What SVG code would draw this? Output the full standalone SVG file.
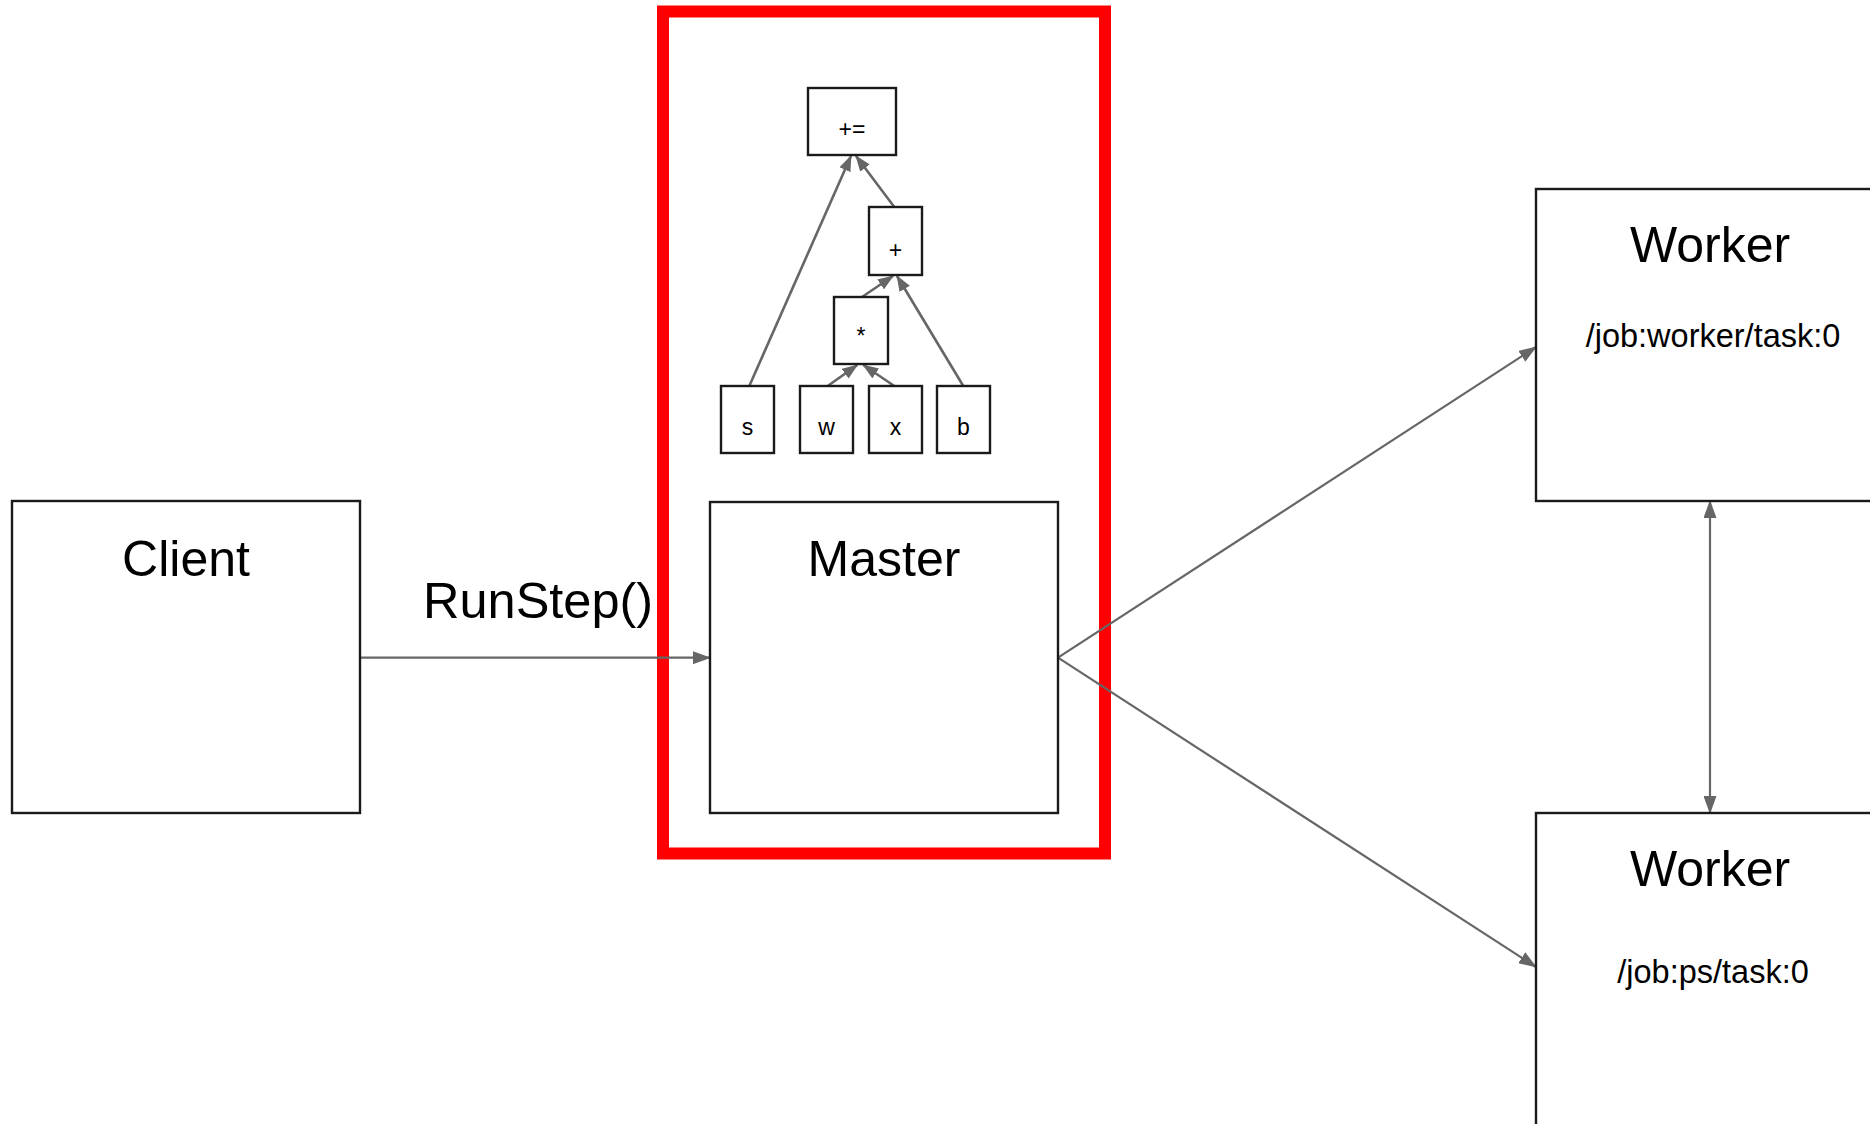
<svg xmlns="http://www.w3.org/2000/svg" width="1870" height="1124" viewBox="0 0 1870 1124">
<style>
.box{fill:#fff;stroke:#1a1a1a;stroke-width:2.4}
.big{font-family:"Liberation Sans",Arial,sans-serif;font-size:50px;fill:#000;text-anchor:middle}
.sub{font-family:"Liberation Sans",Arial,sans-serif;font-size:32.5px;fill:#000;text-anchor:middle}
.op{font-family:"Liberation Sans",Arial,sans-serif;font-size:23px;fill:#000;text-anchor:middle}
.edge{fill:none;stroke:#666;stroke-width:2.2}
.tedge{fill:none;stroke:#666;stroke-width:2.6}
</style>
<defs>
<marker id="ah" markerUnits="userSpaceOnUse" markerWidth="18" markerHeight="13" refX="17" refY="6.5" orient="auto">
<path d="M0,0 L18,6.5 L0,13 z" fill="#666"/>
</marker>
<marker id="ahs" markerUnits="userSpaceOnUse" markerWidth="18" markerHeight="13" refX="17" refY="6.5" orient="auto-start-reverse">
<path d="M0,0 L18,6.5 L0,13 z" fill="#666"/>
</marker>
<marker id="as" markerUnits="userSpaceOnUse" markerWidth="16" markerHeight="12" refX="15" refY="6" orient="auto">
<path d="M0,0 L16,6 L0,12 z" fill="#666"/>
</marker>
</defs>
<rect id="highlight" x="663" y="11.5" width="442" height="842" fill="none" stroke="#ff0000" stroke-width="12"/>
<g id="connectors">
<line class="edge" x1="360" y1="657.7" x2="710" y2="657.7" marker-end="url(#ah)"/>
<line class="edge" x1="1058" y1="657.7" x2="1536" y2="347" marker-end="url(#ah)"/>
<line class="edge" x1="1058" y1="657.7" x2="1536" y2="967" marker-end="url(#ah)"/>
<line class="edge" x1="1710" y1="501" x2="1710" y2="813" marker-start="url(#ahs)" marker-end="url(#ahs)"/>
<line class="tedge" x1="749.3" y1="386" x2="851" y2="156" marker-end="url(#as)"/>
<line class="tedge" x1="894.3" y1="207" x2="856" y2="156" marker-end="url(#as)"/>
<line class="tedge" x1="862" y1="297" x2="893" y2="276" marker-end="url(#as)"/>
<line class="tedge" x1="963.3" y1="386" x2="897" y2="276" marker-end="url(#as)"/>
<line class="tedge" x1="827.7" y1="386" x2="857.3" y2="365" marker-end="url(#as)"/>
<line class="tedge" x1="894.3" y1="386" x2="863.3" y2="365" marker-end="url(#as)"/>
</g>
<text id="label-runstep" x="423" y="618.3" style="font-family:'Liberation Sans',Arial,sans-serif;font-size:50.5px;fill:#000">RunStep()</text>
<g id="client"><rect class="box" x="12" y="501" width="348" height="312"/><text class="big" x="186" y="575.7">Client</text></g>
<g id="master"><rect class="box" x="710" y="502" width="348" height="311"/><text class="big" x="884" y="575.7">Master</text></g>
<g id="worker0"><rect class="box" x="1536" y="189" width="348" height="312"/><text class="big" x="1710" y="261.7">Worker</text><text class="sub" x="1713" y="347.3">/job:worker/task:0</text></g>
<g id="worker1"><rect class="box" x="1536" y="813" width="348" height="340"/><text class="big" x="1710" y="886">Worker</text><text class="sub" x="1713" y="983.3">/job:ps/task:0</text></g>
<g id="op-assignadd"><rect class="box" x="808" y="88" width="88" height="67"/><text class="op" x="852" y="137">+=</text></g>
<g id="op-add"><rect class="box" x="869" y="207" width="53" height="68"/><text class="op" x="895.5" y="257.5">+</text></g>
<g id="op-mul"><rect class="box" x="834" y="297" width="54" height="67"/><text class="op" x="861" y="344">*</text></g>
<g id="var-s"><rect class="box" x="721" y="386" width="53" height="67"/><text class="op" x="747.5" y="435">s</text></g>
<g id="var-w"><rect class="box" x="800" y="386" width="53" height="67"/><text class="op" x="826.5" y="435">w</text></g>
<g id="var-x"><rect class="box" x="869" y="386" width="53" height="67"/><text class="op" x="895.5" y="435">x</text></g>
<g id="var-b"><rect class="box" x="937" y="386" width="53" height="67"/><text class="op" x="963.5" y="435">b</text></g>
</svg>
